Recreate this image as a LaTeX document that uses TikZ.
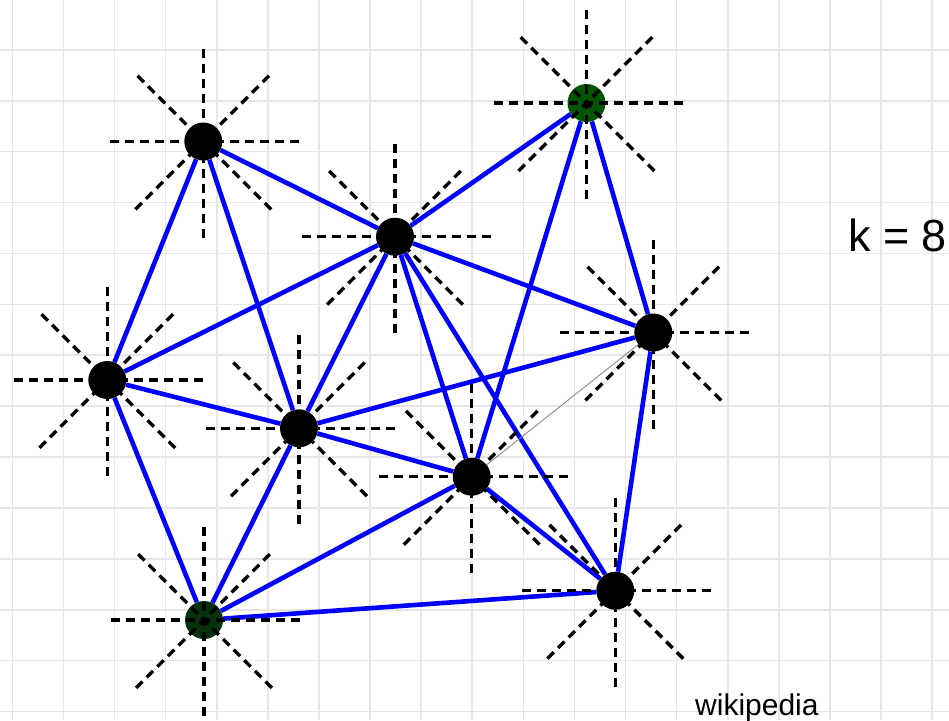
\documentclass[tikz,border=0pt]{standalone}
\usepackage{fontspec}
\setmainfont{Liberation Sans}
\definecolor{gridgray}{RGB}{230,230,230}
\definecolor{edgeblue}{RGB}{0,0,255}
\definecolor{greenA}{RGB}{0,85,0}
\definecolor{greenB}{RGB}{5,50,10}
\definecolor{thingray}{RGB}{140,140,140}
\pgfdeclarelayer{gridlayer}
\pgfdeclarelayer{edgelayer}
\pgfsetlayers{gridlayer,edgelayer,main}
\begin{document}
\begin{tikzpicture}[x=1pt,y=-1pt,
  gridline/.style={draw=gridgray,line width=1.6pt},
  edge/.style={draw=edgeblue,line width=4.6pt},
  thinedge/.style={draw=thingray,line width=0.9pt},
  vertex/.style={circle,fill=black,minimum size=38pt,inner sep=0pt},
  startick/.style={draw=black,line width=3.4pt,dash pattern=on 9pt off 6pt},
  label/.style={anchor=base west,inner sep=0pt}
]
\useasboundingbox (0,0) rectangle (949,720);
\begin{pgfonlayer}{gridlayer}
\fill[white] (0,0) rectangle (949,720);
\foreach \i in {0,...,18} \draw[gridline] ({12.3+51.1*\i},0) -- ({12.3+51.1*\i},720);
\foreach \j in {0,...,13} \draw[gridline] (0,{49.8+50.9*\j}) -- (949,{49.8+50.9*\j});
\end{pgfonlayer}

\node[vertex] (n1) at (203.3,141.5) {};
\node[vertex,fill=greenA] (n2) at (586.5,103) {};
\node[vertex] (n3) at (395,236.7) {};
\node[vertex] (n4) at (653.3,332.5) {};
\node[vertex] (n5) at (107.3,380) {};
\node[vertex] (n6) at (299,428.3) {};
\node[vertex] (n7) at (471.7,476.7) {};
\node[vertex] (n8) at (615.3,590.7) {};
\node[vertex,fill=greenB] (n9) at (204,620) {};

\begin{pgfonlayer}{edgelayer}
\draw[edge] (n1) -- (n3);
\draw[edge] (n1) -- (n5);
\draw[edge] (n1) -- (n6);
\draw[edge] (n2) -- (n3);
\draw[edge] (n2) -- (n4);
\draw[edge] (n2) -- (n7);
\draw[edge] (n3) -- (n4);
\draw[edge] (n3) -- (n5);
\draw[edge] (n3) -- (n6);
\draw[edge] (n3) -- (n7);
\draw[edge] (n3) -- (n8);
\draw[edge] (n4) -- (n6);
\draw[edge] (n4) -- (n8);
\draw[edge] (n5) -- (n6);
\draw[edge] (n5) -- (n9);
\draw[edge] (n6) -- (n7);
\draw[edge] (n6) -- (n9);
\draw[edge] (n7) -- (n8);
\draw[edge] (n7) -- (n9);
\draw[edge] (n9) -- (n8);
\draw[thinedge] (n7) -- (n4);
\end{pgfonlayer}

\foreach \k in {1,...,9}
  \foreach \a in {0,45,90,135}
    \draw[startick] ([shift={(\a:96)}]n\k.center) -- ([shift={(\a+180:96)}]n\k.center);

\node[label,font=\fontsize{45}{54}\selectfont] (kval) at (848,251.5) {k = 8};
\node[label,font=\fontsize{30}{36}\selectfont] (wiki) at (695,715) {wikipedia};
\end{tikzpicture}
\end{document}
